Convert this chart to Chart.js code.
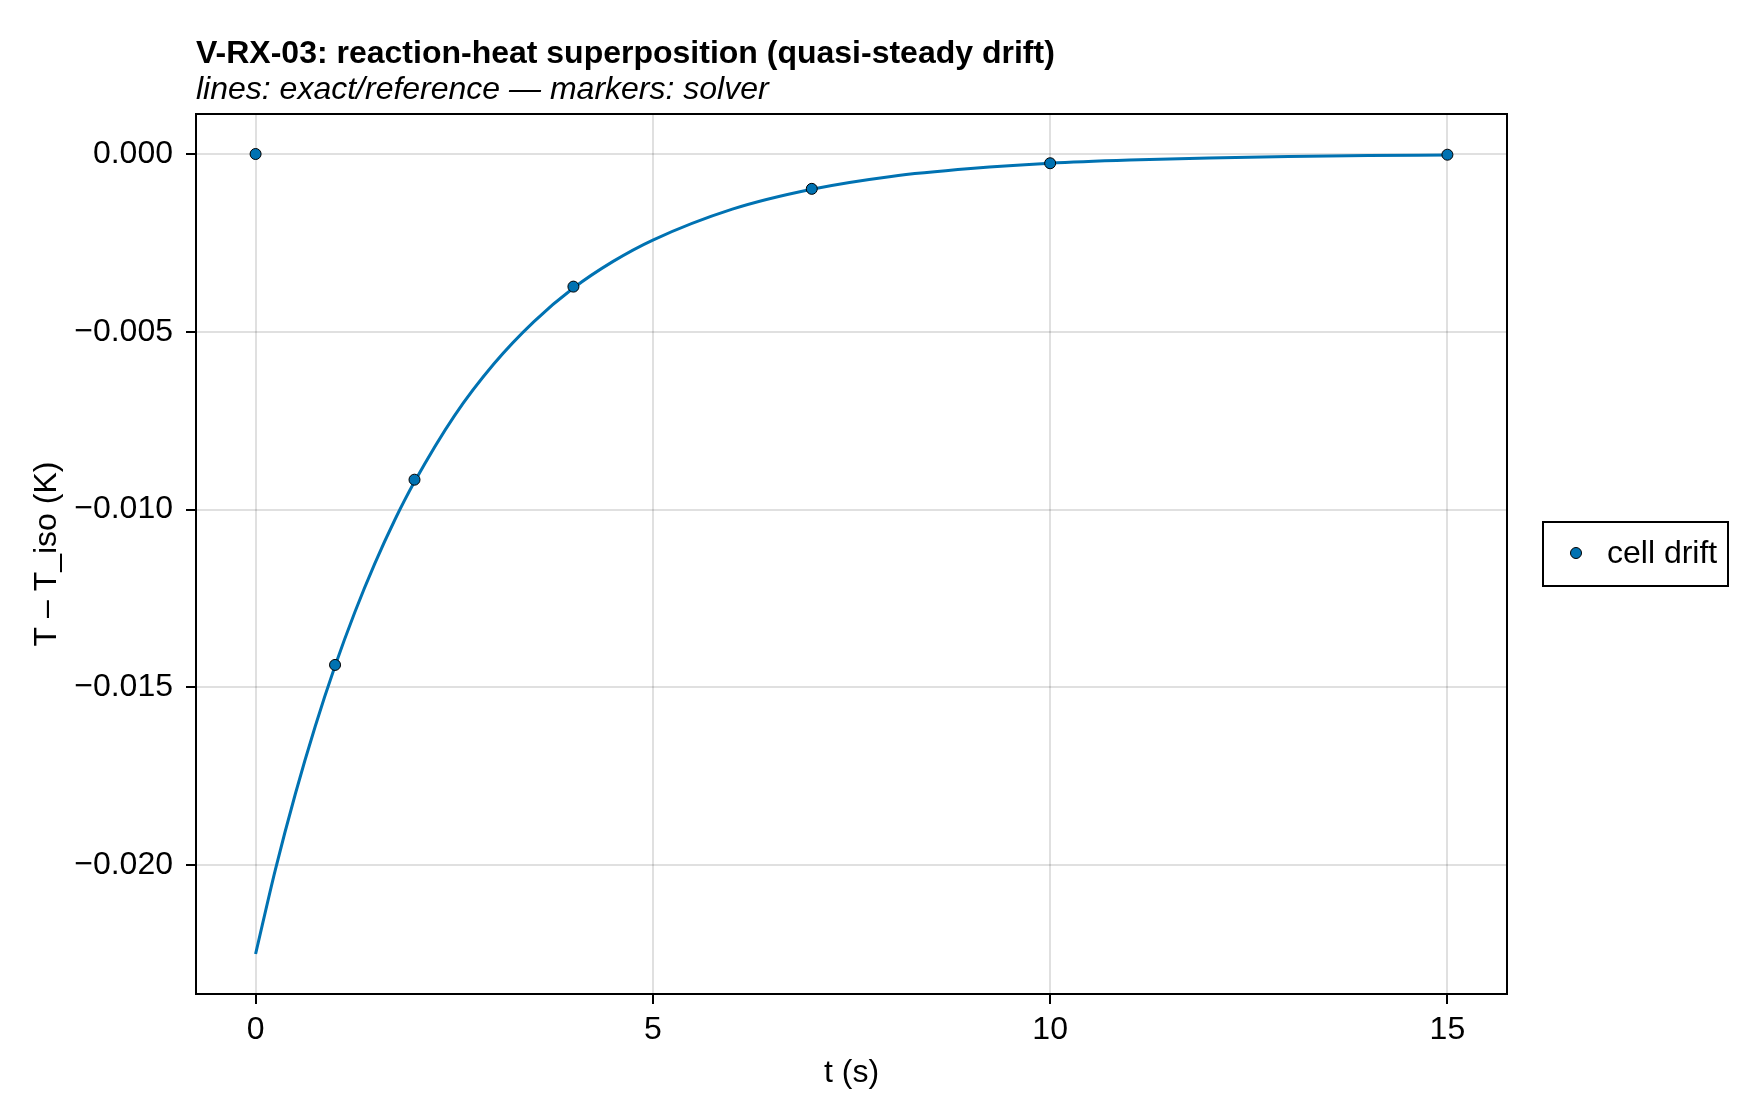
<!DOCTYPE html>
<html><head><meta charset="utf-8">
<script src="https://cdn.jsdelivr.net/npm/chart.js@4.4.1/dist/chart.umd.min.js"></script>
<style>html,body{margin:0;padding:0;background:#fff;} canvas{display:block;}</style>
</head><body>
<canvas id="c" width="1760" height="1120"></canvas>
<script>
// ---- data ----
const titleText = "V-RX-03: reaction-heat superposition (quasi-steady drift)";
const subtitleText = "lines: exact/reference \u2014 markers: solver";
const xAxisTitle = "t (s)";
const yAxisTitle = "T \u2013 T_iso (K)";
const seriesName = "cell drift";

// reference (exact) curve
const refT =     [0, 0.25, 0.5, 0.75, 1, 1.25, 1.5, 1.75, 2, 2.5, 3, 3.5, 4, 4.5, 5, 6, 7, 8, 9, 10, 11, 12, 13, 14, 15];
const refDrift = [-0.02250, -0.02012, -0.01800, -0.01610, -0.01440, -0.01288, -0.01152, -0.01030, -0.00922,
                  -0.00737, -0.00590, -0.00472, -0.00377, -0.00302, -0.00242, -0.00155, -0.00099, -0.00063,
                  -0.00041, -0.00026, -0.00017, -0.00011, -0.00007, -0.00004, -0.00003];

// solver markers
const solverT =     [0, 1, 2, 4, 7, 10, 15];
const solverDrift = [0.00000, -0.01437, -0.00916, -0.00373, -0.00098, -0.00026, -0.00002];

const xTickValues = [0, 5, 10, 15];
const xTickLabels = ["0", "5", "10", "15"];
const yTickValues = [0, -0.005, -0.010, -0.015, -0.020];
const yTickLabels = ["0.000", "\u22120.005", "\u22120.010", "\u22120.015", "\u22120.020"];
const xLimits = [-0.75, 15.75];
const yLimits = [-0.023625, 0.001125];

// ---- styling ----
const FONT = "'Liberation Sans', Arial, Helvetica, sans-serif";
const BLUE = "#0072B2";

const refPoints = refT.map((t, i) => ({x: t, y: refDrift[i]}));
const solverPoints = solverT.map((t, i) => ({x: t, y: solverDrift[i]}));

const bgPlugin = {
  id: 'bg',
  beforeDraw(chart) {
    const ctx = chart.ctx;
    ctx.save(); ctx.fillStyle = '#fff'; ctx.fillRect(0, 0, chart.width, chart.height); ctx.restore();
  }
};

const decorPlugin = {
  id: 'decor',
  afterDraw(chart) {
    const ctx = chart.ctx;
    const a = chart.chartArea;
    ctx.save();
    // frame
    ctx.strokeStyle = '#000';
    ctx.lineWidth = 2;
    ctx.strokeRect(a.left, a.top, a.right - a.left, a.bottom - a.top);
    // title + subtitle
    ctx.fillStyle = '#000';
    ctx.textAlign = 'left';
    ctx.textBaseline = 'alphabetic';
    ctx.font = "bold 32px " + FONT;
    ctx.fillText(titleText, a.left, 63);
    ctx.font = "italic 32px " + FONT;
    ctx.fillText(subtitleText, a.left, 99);
    // legend
    const lx = 1543, ly = 522, lw = 185, lh = 64;
    ctx.lineWidth = 2;
    ctx.strokeStyle = '#000';
    ctx.strokeRect(lx, ly, lw, lh);
    ctx.beginPath();
    ctx.arc(1576, 553, 5.5, 0, Math.PI * 2);
    ctx.fillStyle = BLUE; ctx.fill();
    ctx.lineWidth = 1; ctx.strokeStyle = '#000'; ctx.stroke();
    ctx.fillStyle = '#000';
    ctx.font = "32px " + FONT;
    ctx.textBaseline = 'middle';
    ctx.fillText(seriesName, 1607, 554);
    ctx.restore();
  }
};

new Chart(document.getElementById('c'), {
  type: 'scatter',
  data: {
    datasets: [
      {
        label: 'exact',
        data: refPoints,
        showLine: true,
        borderColor: BLUE,
        borderWidth: 3,
        pointRadius: 0,
        cubicInterpolationMode: 'monotone',
        fill: false,
        order: 2
      },
      {
        label: seriesName,
        data: solverPoints,
        showLine: false,
        pointRadius: 5.5,
        pointBackgroundColor: BLUE,
        pointBorderColor: '#000',
        pointBorderWidth: 1,
        order: 1
      }
    ]
  },
  options: {
    responsive: false,
    animation: false,
    devicePixelRatio: 1,
    layout: { padding: { top: 114, right: 253, bottom: 28, left: 28 } },
    plugins: { legend: { display: false }, title: { display: false }, tooltip: { enabled: false } },
    scales: {
      x: {
        type: 'linear',
        min: xLimits[0], max: xLimits[1],
        afterBuildTicks(scale) { scale.ticks = xTickValues.map(v => ({value: v})); },
        afterFit(scale) { scale.height = 1120 - 28 - 994; },
        ticks: {
          callback(v) { const i = xTickValues.indexOf(v); return i >= 0 ? xTickLabels[i] : ''; },
          font: { size: 32, family: FONT }, color: '#000', padding: 7, maxRotation: 0
        },
        grid: { color: 'rgba(0,0,0,0.12)', lineWidth: 2, drawTicks: true, tickLength: 10, tickColor: '#000', tickWidth: 2 },
        border: { display: false },
        title: { display: true, text: xAxisTitle, font: { size: 32, family: FONT }, color: '#000', padding: 0 }
      },
      y: {
        type: 'linear',
        min: yLimits[0], max: yLimits[1],
        afterBuildTicks(scale) { scale.ticks = yTickValues.map(v => ({value: v})); },
        afterFit(scale) { scale.width = 196 - 28; },
        ticks: {
          callback(v) { const i = yTickValues.findIndex(t => Math.abs(t - v) < 1e-9); return i >= 0 ? yTickLabels[i] : ''; },
          font: { size: 32, family: FONT }, color: '#000', padding: 13
        },
        grid: { color: 'rgba(0,0,0,0.12)', lineWidth: 2, drawTicks: true, tickLength: 10, tickColor: '#000', tickWidth: 2 },
        border: { display: false },
        title: { display: true, text: yAxisTitle, font: { size: 32, family: FONT }, color: '#000', padding: 0 }
      }
    }
  },
  plugins: [bgPlugin, decorPlugin]
});
</script>
</body></html>
